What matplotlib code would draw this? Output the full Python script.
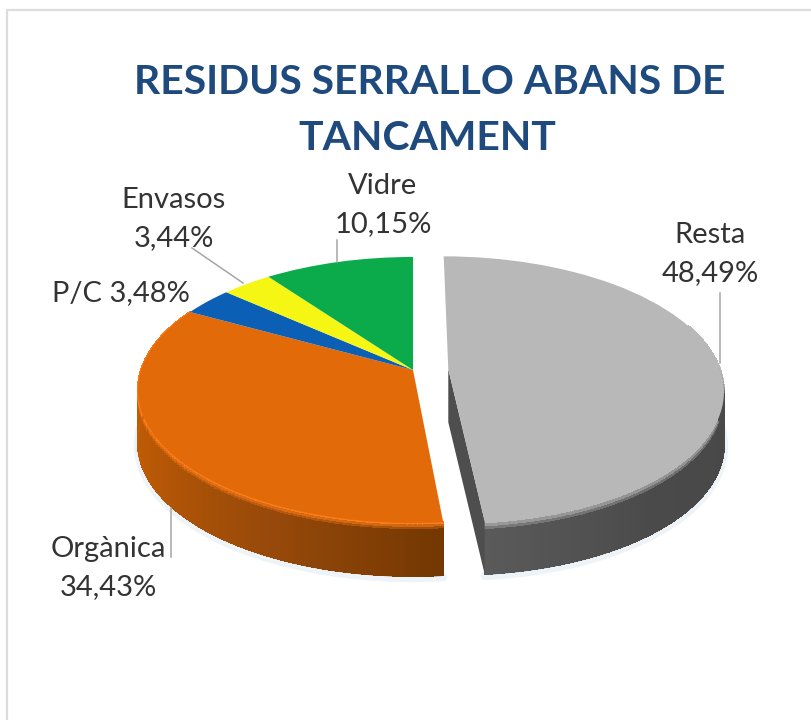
import numpy as np
import matplotlib
matplotlib.use("Agg")
import matplotlib.pyplot as plt
from matplotlib.collections import PolyCollection, LineCollection
from matplotlib.colors import to_rgb
from matplotlib.transforms import Transform

# data, clockwise from 12 o'clock
categories = ['Resta', 'Orgànica', 'P/C', 'Envasos', 'Vidre']
values = [48.49, 34.43, 3.48, 3.44, 10.15]
colors = ['#b8b8b8', '#e26a08', '#0b5fb5', '#f6f614', '#0bab4c']
explode = [0.13, 0, 0, 0, 0]
title_lines = ['RESIDUS SERRALLO ABANS DE', 'TANCAMENT']

# pie geometry in image pixels
cx, cy = 413, 370
rx, ry = 272, 130
k = 0.15
depth = 53


# the tilted pie: unit circle seen in perspective
class Tilt(Transform):
    input_dims = 2
    output_dims = 2
    is_separable = False
    has_inverse = False

    def transform_non_affine(self, xy):
        xy = np.asarray(xy, dtype=float)
        w = 1 + k * xy[:, 1]
        return np.column_stack([cx + rx * xy[:, 0] / w, cy - ry * xy[:, 1] / w])


def mix(a, b, t):
    a, b = np.array(to_rgb(a)), np.array(to_rgb(b))
    return tuple(a + (b - a) * t)


def ramp(stops, t):
    pos = np.linspace(0, 1, len(stops))
    i = min(np.searchsorted(pos, t, side='right') - 1, len(stops) - 2)
    return mix(stops[i], stops[i + 1], (t - pos[i]) / (pos[i + 1] - pos[i]))


fig = plt.figure(figsize=(8.11, 7.2), dpi=100)
ax = fig.add_axes([0, 0, 1, 1])
wedges, _ = ax.pie(values, colors=colors, startangle=90, counterclock=False,
                   explode=explode, radius=1, wedgeprops={'linewidth': 0})
ax.set_aspect('auto')
ax.set_xlim(0, 811)
ax.set_ylim(720, 0)
ax.axis('off')

tilt = Tilt()
for w in wedges:
    w.set_transform(tilt + ax.transData)
    w.set_zorder(4)
    w.set_clip_on(False)


def rim(w, th):
    rad = np.radians(th)
    pts = np.column_stack([w.center[0] + w.r * np.cos(rad), w.center[1] + w.r * np.sin(rad)])
    return tilt.transform_non_affine(pts)


def side(w, stops, bevel, bevel_h, th0, th1):
    th = np.linspace(th0, th1, 140)
    p = rim(w, th)
    # soft halo under the slice
    ax.plot(p[:, 0], p[:, 1] + depth + 2, color='#eef3f7', lw=6, zorder=1, solid_capstyle='round')
    polys, cols, edge, edge_cols = [], [], [], []
    rows = [0, bevel_h * 0.35, bevel_h * 0.7, bevel_h, depth]
    for i in range(len(th) - 1):
        c = ramp(stops, i / (len(th) - 2))
        for j in range(len(rows) - 1):
            polys.append([(p[i, 0], p[i, 1] + rows[j]), (p[i + 1, 0], p[i + 1, 1] + rows[j]),
                          (p[i + 1, 0], p[i + 1, 1] + rows[j + 1]), (p[i, 0], p[i, 1] + rows[j + 1])])
            cols.append(mix(bevel, c, j / 3) if j < 3 else c)
        edge.append([(p[i, 0], p[i, 1] + depth), (p[i + 1, 0], p[i + 1, 1] + depth)])
        edge_cols.append(c)
    ax.add_collection(PolyCollection(polys, facecolors=cols, edgecolors=cols, linewidths=0.6,
                                     antialiaseds=False, zorder=2))
    # smooth the lower edge
    ax.add_collection(LineCollection(edge, colors=edge_cols, linewidths=1.2, zorder=2.1))


resta, organica = wedges[0], wedges[1]

# sides of the two slices that show a wall
side(organica, ['#d46506', '#c75f06', '#b45606', '#96490a', '#743802'], '#fb7c18', 7,
     organica.theta1, organica.theta2)
side(resta, ['#5a5a5a', '#4a4a4a', '#484848', '#4c4c4c'], '#b8b8b8', 9,
     resta.theta1, resta.theta1 + 105)

# cut face of the exploded slice
apex = tilt.transform_non_affine(np.array([resta.center]))[0]
corner = rim(resta, np.array([resta.theta1]))[0]
ax.fill([apex[0], corner[0], corner[0], apex[0]],
        [apex[1], corner[1], corner[1] + depth, apex[1] + depth],
        color='#4e4e4e', lw=0, zorder=3)

# leader lines
leaders = [([192, 243], [248, 283]), ([337, 337], [240, 262]),
           ([720, 720], [293, 363]), ([171, 171], [508, 557])]
for lx, ly in leaders:
    ax.plot(lx, ly, color='#a6a6a6', lw=1.1, zorder=5)

# data labels
label_pos = [(710, 254), (108, 568), (121, 293), (174, 219), (383, 205)]
for name, v, (x, y) in zip(categories, values, label_pos):
    pct = f'{v:.2f}'.replace('.', ',') + '%'
    sep = ' ' if name == 'P/C' else '\n'
    ax.text(x, y, name + sep + pct, ha='center', va='center', fontsize=21,
            family='Lato', color='#333333', linespacing=1.54, zorder=6)

# title
ax.text(430, 82, title_lines[0], ha='center', va='center', fontsize=29.4,
        family='Lato', weight='bold', color='#1f4a7d')
ax.text(427, 138, title_lines[1], ha='center', va='center', fontsize=29.4,
        family='Lato', weight='bold', color='#1f4a7d')

# chart frame, left and top only reach the picture
ax.plot([6.5, 6.5, 811], [720, 9.5, 9.5], color='#dcdcdc', lw=1.6, zorder=0)

fig.savefig('out.png', dpi=100, facecolor='white')
